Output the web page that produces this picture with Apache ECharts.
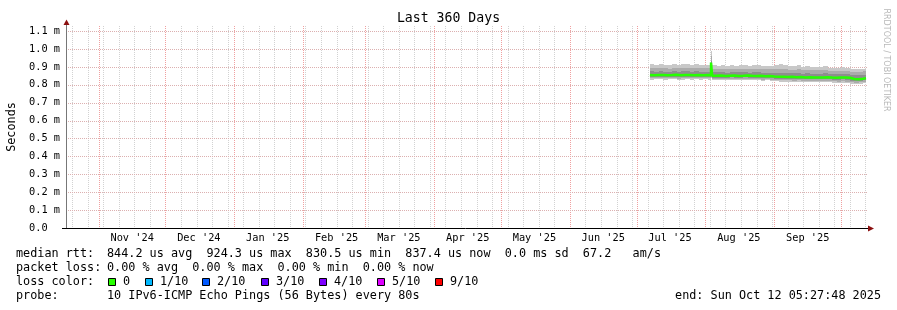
<!DOCTYPE html>
<html><head><meta charset="utf-8">
<script src="https://cdn.jsdelivr.net/npm/echarts@6/dist/echarts.min.js"></script>
<style>html,body{margin:0;padding:0;background:#fff}#c{width:897px;height:310px}</style>
</head><body><div id="c"></div>
<script>
// ---------- data ----------
const rangeStart = '2024-10-17T05:27:48Z';
const rangeEnd = '2025-10-12T05:27:48Z';
const monthLabels = ["Nov '24","Dec '24","Jan '25","Feb '25","Mar '25","Apr '25","May '25","Jun '25","Jul '25","Aug '25","Sep '25"];
const monthStarts = ['2024-11-01','2024-12-01','2025-01-01','2025-02-01','2025-03-01','2025-04-01','2025-05-01','2025-06-01','2025-07-01','2025-08-01','2025-09-01','2025-10-01'];
const yTicks = [0,0.1,0.2,0.3,0.4,0.5,0.6,0.7,0.8,0.9,1.0,1.1];
const dates = ['2025-07-07','2025-07-09','2025-07-11','2025-07-13','2025-07-15','2025-07-17','2025-07-19','2025-07-21','2025-07-23','2025-07-25','2025-07-27','2025-07-29','2025-07-31',
  '2025-08-02','2025-08-03T12:00:00Z','2025-08-04','2025-08-06','2025-08-08','2025-08-10','2025-08-12','2025-08-14','2025-08-16','2025-08-18','2025-08-20','2025-08-22','2025-08-24','2025-08-26','2025-08-28','2025-08-30',
  '2025-09-01','2025-09-03','2025-09-05','2025-09-07','2025-09-09','2025-09-11','2025-09-13','2025-09-15','2025-09-17','2025-09-19','2025-09-21','2025-09-23','2025-09-25','2025-09-27','2025-09-29',
  '2025-10-01','2025-10-03','2025-10-05','2025-10-07','2025-10-09','2025-10-11','2025-10-12T05:27:48Z'];
// values in milliseconds
const rttMedian = [.855,.853,.854,.855,.853,.854,.856,.853,.854,.855,.853,.854,.853,
  .854,.853,.924,.850,.851,.849,.850,.851,.849,.850,.852,.850,.849,.850,.848,.849,
  .846,.844,.845,.843,.844,.842,.843,.841,.842,.840,.841,.840,.842,.840,.839,
  .840,.841,.839,.832,.831,.833,.837];
const rttMin = [.830,.829,.830,.831,.829,.830,.831,.828,.829,.830,.829,.830,.829,
  .830,.829,.836,.826,.827,.825,.826,.827,.825,.826,.827,.826,.824,.825,.823,.824,
  .821,.819,.818,.817,.818,.816,.817,.815,.816,.814,.815,.813,.815,.813,.812,
  .811,.812,.810,.806,.805,.806,.807];
const rttP2 = [.836,.835,.836,.836,.835,.836,.837,.834,.835,.836,.835,.836,.835,
  .836,.835,.842,.832,.833,.831,.832,.833,.831,.832,.833,.832,.830,.831,.829,.830,
  .828,.826,.825,.824,.825,.823,.824,.822,.823,.821,.822,.820,.822,.820,.819,
  .818,.819,.817,.813,.812,.813,.814];
const rttP3 = [.843,.842,.843,.844,.842,.843,.844,.842,.843,.844,.842,.843,.842,
  .843,.842,.850,.840,.840,.839,.840,.841,.839,.840,.841,.840,.838,.839,.838,.838,
  .836,.834,.834,.833,.834,.832,.833,.831,.832,.830,.831,.830,.832,.830,.829,
  .829,.830,.828,.823,.822,.823,.825];
const rttP8 = [.872,.874,.873,.876,.873,.872,.875,.872,.874,.875,.873,.874,.872,
  .873,.872,.935,.870,.869,.870,.868,.871,.869,.870,.871,.868,.869,.870,.867,.868,
  .866,.866,.868,.866,.865,.864,.865,.862,.864,.861,.862,.861,.863,.860,.860,
  .859,.861,.858,.855,.853,.854,.856];
const rttP9 = [.892,.894,.893,.895,.892,.890,.894,.891,.893,.895,.892,.893,.891,
  .892,.891,.960,.889,.887,.889,.886,.890,.888,.889,.890,.887,.888,.889,.886,.887,
  .886,.887,.890,.888,.885,.884,.886,.882,.884,.880,.881,.880,.882,.879,.878,
  .877,.879,.876,.873,.871,.872,.874];
const rttMax = [.912,.914,.911,.916,.913,.910,.914,.912,.915,.917,.913,.914,.912,
  .913,.911,.990,.908,.906,.909,.905,.910,.907,.908,.910,.906,.909,.912,.905,.906,
  .907,.910,.916,.912,.905,.903,.908,.900,.906,.898,.899,.897,.902,.896,.895,
  .894,.897,.892,.889,.887,.888,.890];
const statsLine1 = '844.2 us avg  924.3 us max  830.5 us min  837.4 us now  0.0 ms sd  67.2   am/s';
const statsLine2 = '0.00 % avg  0.00 % max  0.00 % min  0.00 % now';
const probeText = '10 IPv6-ICMP Echo Pings (56 Bytes) every 80s';
const endText = 'end: Sun Oct 12 05:27:48 2025';
const lossLabels = ['0','1/10','2/10','3/10','4/10','5/10','9/10'];
const lossColors = ['#26ff00','#00b8ff','#0059ff','#5e00ff','#7e00ff','#dd00ff','#ff0000'];

// ---------- build ----------
const T = s => Date.parse(s.length === 10 ? s + 'T00:00:00Z' : s);
const x0 = T(rangeStart), x1 = T(rangeEnd);
const xs = dates.map(T);
const DAY = 86400000;
const YMAX = 1.128;
const labelVals = monthStarts.slice(0, monthLabels.length).map(s => T(s) + 15 * DAY);

// weekly grid (Sundays) and month grid
const weekLines = [];
for (let t = T('2024-10-20'); t < x1; t += 7 * DAY) weekLines.push(t);
const monthLines = monthStarts.map(T).filter(t => t > x0 && t < x1);
const vGrid = weekLines.map(t => [t, 0]).concat(monthLines.map(t => [t, 1]));
const hGrid = yTicks.filter(v => v > 0).map(v => [x0, v]);

// smoke rows: [tPrev, t, min, p2, p3, p8, p9, max]
const smoke = [];
for (let i = 1; i < xs.length; i++) smoke.push([xs[i - 1], xs[i], rttMin[i], rttP2[i], rttP3[i], rttP8[i], rttP9[i], rttMax[i]]);
const medianData = rttMedian.map((v, i) => [xs[i], v]);

const MONO = '"DejaVu Sans Mono", monospace';

const series = [
  {type: 'custom', data: vGrid, z: 1, silent: true, clip: false, encode: {x: 0, y: 1},
   renderItem: (params, api) => {
     const cs = params.coordSys;
     const x = Math.round(api.coord([api.value(0), 0])[0]) + 0.5;
     return {type: 'line', silent: true,
       shape: {x1: x, y1: cs.y, x2: x, y2: cs.y + cs.height},
       style: {stroke: api.value(1) ? '#f0a0a0' : '#d2d2d2', lineWidth: 1, lineDash: [1, 1]}};
   }},
  {type: 'custom', data: hGrid, z: 1, silent: true, clip: false, encode: {x: 0, y: 1},
   renderItem: (params, api) => {
     const cs = params.coordSys;
     const y = Math.round(api.coord([x0, api.value(1)])[1]) + 0.5;
     return {type: 'line', silent: true,
       shape: {x1: cs.x, y1: y, x2: cs.x + cs.width + 2, y2: y},
       style: {stroke: '#dcb0b0', lineWidth: 1, lineDash: [1, 1]}};
   }},
  {type: 'custom', data: smoke, z: 2, silent: true, encode: {x: [0, 1], y: [2, 7]},
   renderItem: (params, api) => {
     const xa = Math.round(api.coord([api.value(0), 0])[0]);
     const xb = Math.round(api.coord([api.value(1), 0])[0]);
     const w = Math.max(xb - xa, 1);
     const rect = (lo, hi, color) => {
       const yl = Math.round(api.coord([api.value(1), lo])[1]);
       const yh = Math.round(api.coord([api.value(1), hi])[1]);
       return {type: 'rect', shape: {x: xa, y: yh, width: w, height: Math.max(yl - yh, 1)}, style: {fill: color}};
     };
     return {type: 'group', children: [
       rect(api.value(2), api.value(7), '#c8c8c8'),
       rect(api.value(3), api.value(6), '#ababab'),
       rect(api.value(4), api.value(5), '#8e8e8e')
     ]};
   }},
  {type: 'line', data: medianData, symbol: 'none', step: 'start', z: 5, silent: true,
   lineStyle: {color: lossColors[0], width: 2.5}}
];

// legend / text graphics
const graphics = [
  {type: 'text', x: 16, y: 254, style: {text: 'median rtt:', fontSize: 11.8, fontFamily: MONO, fill: '#000', verticalAlign: 'middle'}},
  {type: 'text', x: 107, y: 254, style: {text: statsLine1, fontSize: 11.8, fontFamily: MONO, fill: '#000', verticalAlign: 'middle'}},
  {type: 'text', x: 16, y: 268, style: {text: 'packet loss:', fontSize: 11.8, fontFamily: MONO, fill: '#000', verticalAlign: 'middle'}},
  {type: 'text', x: 107, y: 268, style: {text: statsLine2, fontSize: 11.8, fontFamily: MONO, fill: '#000', verticalAlign: 'middle'}},
  {type: 'text', x: 16, y: 282, style: {text: 'loss color:', fontSize: 11.8, fontFamily: MONO, fill: '#000', verticalAlign: 'middle'}},
  {type: 'text', x: 16, y: 296, style: {text: 'probe:', fontSize: 11.8, fontFamily: MONO, fill: '#000', verticalAlign: 'middle'}},
  {type: 'text', x: 107, y: 296, style: {text: probeText, fontSize: 11.8, fontFamily: MONO, fill: '#000', verticalAlign: 'middle'}},
  {type: 'text', x: 881, y: 296, style: {text: endText, fontSize: 11.8, fontFamily: MONO, fill: '#000', align: 'right', verticalAlign: 'middle'}},
  {type: 'text', x: 886, y: 60, rotation: -Math.PI / 2, style: {text: 'RRDTOOL / TOBI OETIKER', fontSize: 8, fontFamily: '"DejaVu Sans", sans-serif', fill: '#b8b8b8', align: 'center', verticalAlign: 'middle'}},
  // axis lines and arrows
  {type: 'line', shape: {x1: 62, y1: 228.5, x2: 869, y2: 228.5}, style: {stroke: '#000', lineWidth: 1}, z: 10},
  {type: 'line', shape: {x1: 66.5, y1: 24, x2: 66.5, y2: 228}, style: {stroke: '#777', lineWidth: 1}, z: 10},
  {type: 'polygon', shape: {points: [[868, 225.5], [868, 231.5], [874, 228.5]]}, style: {fill: '#8b1010'}, z: 11},
  {type: 'polygon', shape: {points: [[63.5, 25], [69.5, 25], [66.5, 19.5]]}, style: {fill: '#8b1010'}, z: 11}
];
const boxX = [108.5, 145.5, 202.5, 261.5, 319.5, 377.5, 435.5];
lossLabels.forEach((lab, i) => {
  graphics.push({type: 'rect', shape: {x: boxX[i], y: 278.5, width: 7, height: 7}, style: {fill: lossColors[i], stroke: '#000', lineWidth: 1}});
  graphics.push({type: 'text', x: boxX[i] + 14.5, y: 282, style: {text: lab, fontSize: 11.8, fontFamily: MONO, fill: '#000', verticalAlign: 'middle'}});
});

const chart = echarts.init(document.getElementById('c'), null, {renderer: 'canvas'});
chart.setOption({
  animation: false,
  backgroundColor: '#fff',
  title: {text: 'Last 360 Days', left: 'center', top: 12, padding: 0,
    textStyle: {fontFamily: MONO, fontSize: 13.2, fontWeight: 'normal', color: '#000'}},
  grid: {left: 66, right: 31, top: 26, bottom: 82, containLabel: false, outerBoundsMode: 'none'},
  xAxis: {type: 'value', min: x0, max: x1,
    axisLine: {show: false}, axisTick: {show: false}, splitLine: {show: false},
    axisLabel: {customValues: labelVals, margin: 5, fontFamily: MONO, fontSize: 10.3, color: '#000',
      formatter: v => { const i = labelVals.indexOf(v); return i >= 0 ? monthLabels[i] : ''; }}},
  yAxis: {type: 'value', min: 0, max: YMAX, interval: 0.1,
    name: 'Seconds', nameLocation: 'middle', nameGap: 48, nameRotate: 90,
    nameTextStyle: {fontFamily: MONO, fontSize: 11.8, color: '#000'},
    axisLine: {show: false}, axisTick: {show: false}, splitLine: {show: false},
    axisLabel: {margin: 6, align: 'right', fontFamily: MONO, fontSize: 10.3, color: '#000', showMaxLabel: false,
      formatter: v => { const k = Math.round(v * 10); if (Math.abs(v * 10 - k) > 1e-6) return ''; return k === 0 ? '0.0  ' : (k / 10).toFixed(1) + ' m'; }}},
  series,
  graphic: graphics
});
</script></body></html>
